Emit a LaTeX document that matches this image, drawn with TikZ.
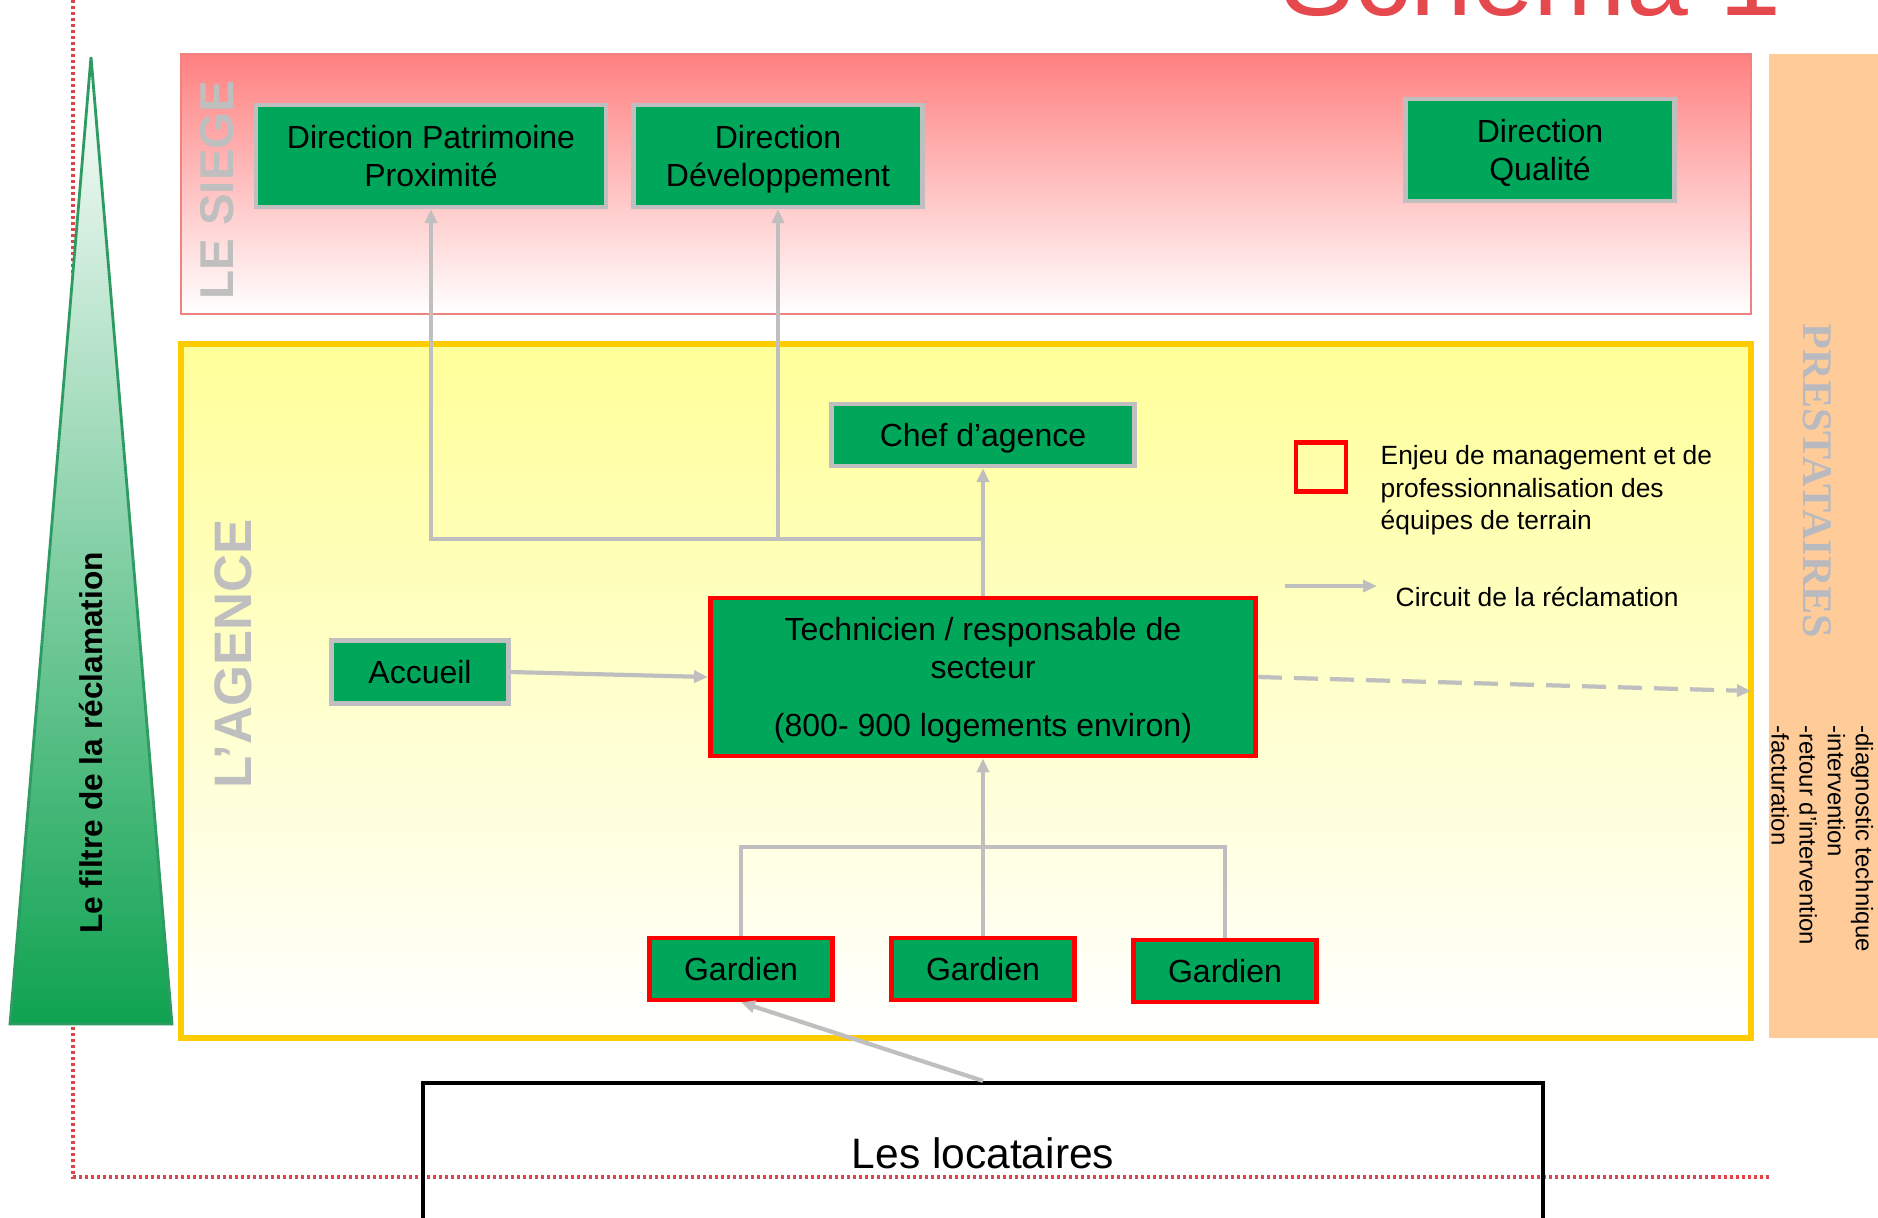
\documentclass[tikz,border=0pt]{standalone}
\usepackage{fontspec}
\setmainfont{Liberation Sans}
\newfontfamily\prestafont{Liberation Serif}
\usetikzlibrary{arrows.meta}

\definecolor{boxgreen}{RGB}{0,166,90}
\definecolor{linegray}{RGB}{191,191,191}
\definecolor{dotred}{RGB}{226,66,74}
\definecolor{siegered}{RGB}{255,128,128}
\definecolor{siegeline}{RGB}{240,130,130}
\definecolor{agenceyellow}{RGB}{255,255,153}
\definecolor{agenceline}{RGB}{255,204,0}
\definecolor{prestapeach}{RGB}{255,204,153}
\definecolor{prestagray}{RGB}{185,185,192}
\definecolor{filtergreen}{RGB}{14,162,80}
\definecolor{filterline}{RGB}{46,155,98}
\definecolor{titlered}{RGB}{229,72,77}

\begin{document}
\begin{tikzpicture}[x=0.01cm, y=-0.01cm,
    dir/.style={draw=linegray, line width=1.2pt, fill=boxgreen, align=center, text depth=0pt, font=\fontsize{9.1}{10.9}\selectfont},
    enjeu/.style={draw=red, line width=1.3pt, fill=boxgreen, align=center, text depth=0pt, font=\fontsize{9.1}{10.9}\selectfont},
    conn/.style={draw=linegray, line width=1.2pt},
    arr/.style={conn, -{Triangle[length=0.14cm,width=0.12cm]}},
    zone/.style={text=linegray, font=\fontsize{15}{15}\bfseries\selectfont}
]
\useasboundingbox (0,0) rectangle (1878,1217);
\clip (0,0) rectangle (1878,1217);

% cadre pointille
\draw[dotred, line width=0.9pt, dash pattern=on 0.03cm off 0.03cm] (73,0) -- (73,1177) -- (1770,1177);

% filtre
\shadedraw[draw=filterline, line width=0.8pt, top color=white, middle color=filtergreen!30, bottom color=filtergreen] (91,57) -- (172,1024) -- (10,1024) -- cycle;
\node[rotate=90, font=\fontsize{9}{9}\bfseries\selectfont] (filtre) at (91,743) {Le filtre de la réclamation};

% zones
\shade[top color=siegered, bottom color=white] (181,54) rectangle (1751,314);
\draw[siegeline, line width=0.6pt] (181,54) rectangle (1751,314);
\shade[top color=agenceyellow, bottom color=white] (181,344) rectangle (1751,1038);
\draw[agenceline, line width=1.5pt] (181,344) rectangle (1751,1038);
\fill[prestapeach] (1769,54) rectangle (1878,1038);

\node[zone, rotate=90, font=\fontsize{13.5}{13.5}\bfseries\selectfont] (siegelbl) at (217,190) {LE SIEGE};
\node[zone, rotate=90] (agencelbl) at (233,654) {L’AGENCE};
\node[rotate=-90, text=prestagray, font=\prestafont\fontsize{12}{12}\bfseries\selectfont] (prestalbl) at (1817,481) {PRESTATAIRES};
\node[rotate=-90, anchor=north west, inner sep=0, align=left, font=\fontsize{6.8}{8}\selectfont] (prestalist) at (1874,725) {-diagnostic technique\\-intervention\\-retour d’intervention\\-facturation};

% siege
\node[dir, minimum width=3.5cm, minimum height=1.02cm] (dpp) at (431,156) {Direction Patrimoine\\Proximité};
\node[dir, minimum width=2.89cm, minimum height=1.02cm] (ddev) at (778,156) {Direction\\Développement};
\node[dir, minimum width=2.69cm, minimum height=1.02cm] (dq) at (1540,150) {Direction\\Qualité};

% agence
\node[dir, minimum width=3.03cm, minimum height=0.62cm] (chef) at (983,435) {Chef d’agence};
\node[enjeu, minimum width=5.45cm, minimum height=1.58cm] (tech) at (983,677) {Technicien / responsable de\\secteur\\[0.2cm](800- 900 logements environ)};
\node[dir, minimum width=1.77cm, minimum height=0.63cm] (acc) at (420,672) {Accueil};
\node[enjeu, minimum width=1.83cm, minimum height=0.62cm] (g1) at (741,969) {Gardien};
\node[enjeu, minimum width=1.83cm, minimum height=0.62cm] (g2) at (983,969) {Gardien};
\node[enjeu, minimum width=1.83cm, minimum height=0.62cm] (g3) at (1225,971) {Gardien};

\node[draw=black, line width=1.2pt, minimum width=11.2cm, minimum height=1.4cm, font=\fontsize{12.1}{14}\selectfont] (loc) at (983,1153) {Les locataires};

% circuit
\coordinate (jn) at (983,539);
\coordinate (gj) at (983,847);
\coordinate (prest) at (1751,691);
\draw[arr] (tech) -- (chef);
\draw[arr] (jn) -| (dpp.south);
\draw[arr] (ddev.south |- jn) -- (ddev.south);
\draw[arr] (acc.east) -- (tech.west);
\draw[conn] (g1.north) |- (gj) -| (g3.north);
\draw[arr] (g2) -- (tech);
\draw[arr, dash pattern=on 0.24cm off 0.12cm] (tech.east) -- (prest);
\draw[arr] (loc.north) -- (g1.south);

% legende
\node[draw=red, line width=1.3pt, minimum width=0.5cm, minimum height=0.49cm, inner sep=0] (lgsq) at (1321,467) {};
\node[anchor=north west, inner sep=0, align=left, font=\fontsize{7.5}{9.25}\selectfont] (lgtxt) at (1380,445) {Enjeu de management et de\\professionnalisation des\\équipes de terrain};
\coordinate (lga) at (1285,586);
\coordinate (lgb) at (1377,586);
\draw[arr] (lga) -- (lgb);
\node[anchor=west, inner sep=0, font=\fontsize{7.5}{9}\selectfont] (lgcirc) at (1395,597) {Circuit de la réclamation};

\node[anchor=base west, inner sep=0, text=titlered, font=\fontsize{31.6}{32}\selectfont] (titre) at (1280,15) {Schéma 1};
\end{tikzpicture}
\end{document}
